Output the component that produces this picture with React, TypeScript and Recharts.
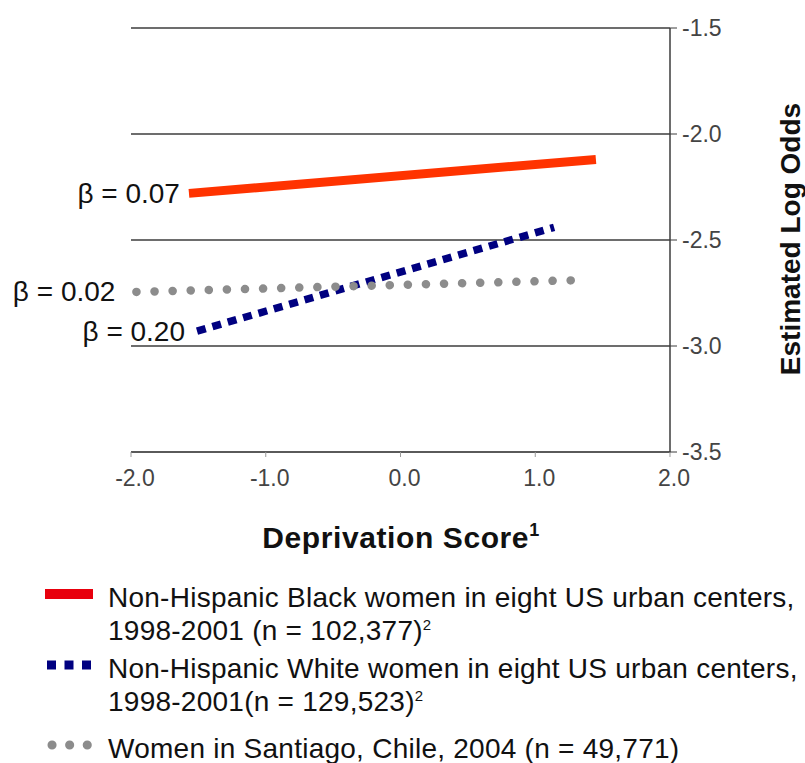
import React from 'react';
import { LineChart, Line, XAxis, YAxis, CartesianGrid } from 'recharts';

// values
const xTicks = [-2, -1, 0, 1, 2];
const yTicks = [-3.5, -3, -2.5, -2, -1.5];

const blackWomen = [
    { x: -1.57, y: -2.28 },
    { x: 1.45, y: -2.12 },
];
const whiteWomen = [
    { x: -1.51, y: -2.93 },
    { x: 1.14, y: -2.44 },
];
const santiagoWomen = [
    { x: -1.96, y: -2.745 },
    { x: 1.29, y: -2.69 },
];

const betaLabels = ['β = 0.07', 'β = 0.20', 'β = 0.02'];
const legendLine1 = [
    'Non-Hispanic Black women in eight US urban centers,',
    'Non-Hispanic White women in eight US urban centers,',
    'Women in Santiago, Chile, 2004 (n = 49,771)',
];
const legendLine2 = ['1998-2001 (n = 102,377)', '1998-2001(n = 129,523)', ''];

const FONT = '"Liberation Sans", Arial, sans-serif';

const series = [
    { key: 'black', data: blackWomen, stroke: '#ff3300', legendStroke: '#e8000d', width: 9, dash: undefined as string | undefined, cap: 'butt', labelGap: 9 },
    { key: 'white', data: whiteWomen, stroke: '#000080', legendStroke: '#000080', width: 7.5, dash: '9 7', cap: 'butt', labelGap: 12 },
    { key: 'santiago', data: santiagoWomen, stroke: '#8c8c8c', legendStroke: '#8c8c8c', width: 8.5, dash: '0.1 18', cap: 'round', labelGap: 21 },
];

const betaLabel = (text: string, gap: number) => (props: any) => {
    if (props.index !== 0) return null;
    return (
        <text key={text} x={props.x - gap} y={props.y} textAnchor="end" dominantBaseline="central"
            fontSize={28} fontFamily={FONT} fill="#111">
            {text}
        </text>
    );
};

// small legend swatch: solid bar, three squares or three dots
const LegendSample = ({ s }: { s: typeof series[number] }) => {
    const round = s.cap === 'round';
    return (
        <svg width={52} height={14} style={{ position: 'absolute', left: 43, top: 6 }}>
            {s.dash || round ? (
                <line x1={round ? 9 : 4} x2={round ? 45 : 50} y1={7} y2={7} stroke={s.legendStroke}
                    strokeWidth={9} strokeDasharray={round ? '0.1 17.5' : '9 8.5'}
                    strokeLinecap={round ? 'round' : 'butt'} />
            ) : (
                <line x1={2} x2={50} y1={7} y2={7} stroke={s.legendStroke} strokeWidth={10} />
            )}
        </svg>
    );
};

export default function App() {
    return (
        <div style={{ position: 'absolute', left: 0, top: 0, width: 805, height: 763, background: '#fff', fontFamily: FONT }}>
            <LineChart width={805} height={763} margin={{ top: 28, right: 0, left: 131, bottom: 261 }}>
                <CartesianGrid vertical={false} stroke="#3c3c3c" strokeWidth={1.5} />
                <XAxis type="number" dataKey="x" domain={[-2, 2]} ticks={xTicks} allowDataOverflow
                    height={50} tickFormatter={(v: number) => v.toFixed(1)}
                    axisLine={{ stroke: '#555', strokeWidth: 1.5 }} tickLine={{ stroke: '#999' }}
                    tickSize={5} tickMargin={13}
                    tick={{ fontSize: 23, fill: '#444', fontFamily: FONT, dx: 4 }}
                    label={{
                        content: () => (
                            <text x={401} y={548} textAnchor="middle" fontSize={30} fontWeight="bold"
                                fontFamily={FONT} fill="#111" letterSpacing={0.6}>
                                Deprivation Score<tspan fontSize={18} dy={-12}>1</tspan>
                            </text>
                        ),
                    }} />
                <YAxis type="number" orientation="right" domain={[-3.5, -1.5]} ticks={yTicks} allowDataOverflow
                    width={135} tickFormatter={(v: number) => v.toFixed(1)}
                    axisLine={{ stroke: '#3c3c3c', strokeWidth: 1.5 }} tickLine={{ stroke: '#3c3c3c' }}
                    tickSize={7} tickMargin={5}
                    tick={{ fontSize: 23, fill: '#444', fontFamily: FONT }}
                    label={{
                        content: () => (
                            <text x={790} y={239} transform="rotate(-90 790 239)" textAnchor="middle"
                                dominantBaseline="central" fontSize={28} fontWeight="bold" fontFamily={FONT} fill="#111">
                                Estimated Log Odds
                            </text>
                        ),
                    }} />
                {series.map((s, i) => (
                    <Line key={s.key} data={s.data} dataKey="y" type="linear" stroke={s.stroke}
                        strokeWidth={s.width} strokeDasharray={s.dash} strokeLinecap={s.cap as any}
                        dot={false} activeDot={false} isAnimationActive={false}
                        label={betaLabel(betaLabels[i], s.labelGap)} />
                ))}
            </LineChart>
            <div style={{ position: 'absolute', left: 0, top: 581, width: 805, fontSize: 28, lineHeight: '33px', color: '#111', letterSpacing: 0.25 }}>
                {series.map((s, i) => (
                    <div key={s.key} style={{ position: 'relative', paddingLeft: 108, marginBottom: i === 0 ? 5 : 14 }}>
                        <LegendSample s={s} />
                        <div style={{ whiteSpace: 'nowrap' }}>{legendLine1[i]}</div>
                        {legendLine2[i] && (
                            <div style={{ whiteSpace: 'nowrap' }}>
                                {legendLine2[i]}<sup style={{ fontSize: 15, lineHeight: 0 }}>2</sup>
                            </div>
                        )}
                    </div>
                ))}
            </div>
        </div>
    );
}
